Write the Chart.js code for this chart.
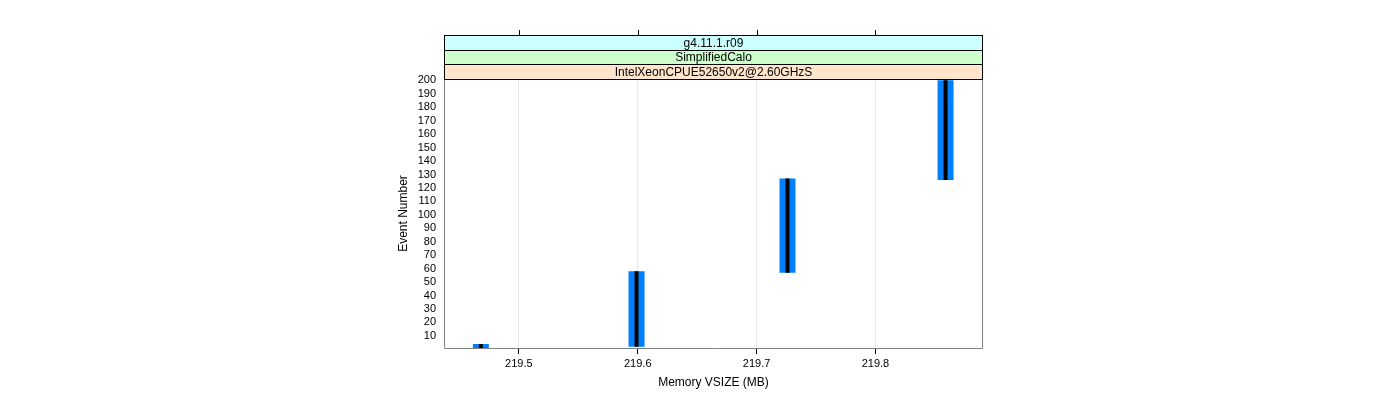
<!DOCTYPE html>
<html>
<head>
<meta charset="utf-8">
<script src="https://cdn.jsdelivr.net/npm/chart.js@4.4.0/dist/chart.umd.min.js"></script>
<style>
  html, body { margin: 0; padding: 0; background: #fff; }
</style>
</head>
<body>
<canvas id="memChart" width="1400" height="400"></canvas>
<script>
// memory step per block of events
const memoryMB = [219.468, 219.599, 219.726, 219.859];
const firstEvent = [1, 2, 57, 126];
const lastEvent = [4, 58, 127, 200];

const stripLabels = ['g4.11.1.r09', 'SimplifiedCalo', 'IntelXeonCPUE52650v2@2.60GHzS'];
const stripColors = ['#ccffff', '#ccffcc', '#ffe5cc'];
const xTicks = [219.5, 219.6, 219.7, 219.8];
const yTicks = [10, 20, 30, 40, 50, 60, 70, 80, 90, 100, 110, 120, 130, 140, 150, 160, 170, 180, 190, 200];

const FONT = "'Liberation Sans', Arial, sans-serif";
Chart.defaults.font.family = FONT;
Chart.defaults.color = '#000';

// vertical segments, one per memory value, split by a null point
const segments = [];
memoryMB.forEach(function (m, i) {
  segments.push({ x: m, y: firstEvent[i] }, { x: m, y: lastEvent[i] }, { x: m, y: null });
});

const stripsPlugin = {
  id: 'strips',
  afterDraw(chart) {
    const ctx = chart.ctx;
    const a = chart.chartArea;
    const x = chart.scales.x;
    const stripTop = 35;
    const h = (a.top - stripTop) / stripLabels.length;

    ctx.save();
    // panel frame
    ctx.strokeStyle = '#808080';
    ctx.lineWidth = 1;
    ctx.beginPath();
    ctx.moveTo(a.left + 0.5, a.top);
    ctx.lineTo(a.left + 0.5, a.bottom + 0.5);
    ctx.lineTo(a.right - 0.5, a.bottom + 0.5);
    ctx.lineTo(a.right - 0.5, a.top);
    ctx.stroke();

    // strips
    stripLabels.forEach(function (t, i) {
      const y0 = Math.round(stripTop + i * h) + 0.5;
      const y1 = Math.round(stripTop + (i + 1) * h) + 0.5;
      ctx.fillStyle = stripColors[i];
      ctx.fillRect(a.left, y0, a.right - a.left, y1 - y0);
      ctx.strokeStyle = '#000';
      ctx.strokeRect(a.left + 0.5, y0, a.right - a.left - 1, y1 - y0);
      ctx.fillStyle = '#000';
      ctx.font = '12px ' + FONT;
      ctx.textAlign = 'center';
      ctx.textBaseline = 'middle';
      ctx.fillText(t, (a.left + a.right) / 2, (y0 + y1) / 2 + 0.5);
    });

    // top ticks above the strips
    ctx.strokeStyle = '#000';
    ctx.beginPath();
    xTicks.forEach(function (v) {
      const px = Math.round(x.getPixelForValue(v)) + 0.5;
      ctx.moveTo(px, stripTop);
      ctx.lineTo(px, stripTop - 5);
    });
    ctx.stroke();
    ctx.restore();
  }
};

new Chart(document.getElementById('memChart'), {
  type: 'scatter',
  data: {
    datasets: [
      {
        data: segments,
        showLine: true,
        borderColor: '#000000',
        borderWidth: 4,
        borderCapStyle: 'butt',
        pointRadius: 0,
        order: 0
      },
      {
        data: segments,
        showLine: true,
        borderColor: '#0080ff',
        borderWidth: 16,
        borderCapStyle: 'butt',
        pointRadius: 0,
        order: 1
      }
    ]
  },
  options: {
    responsive: false,
    animation: false,
    layout: { padding: { left: 396, right: 417, top: 79, bottom: 0 } },
    plugins: {
      legend: { display: false },
      tooltip: { enabled: false }
    },
    scales: {
      x: {
        type: 'linear',
        min: 219.437,
        max: 219.8905,
        afterBuildTicks: function (scale) {
          scale.ticks = xTicks.map(function (v) { return { value: v }; });
        },
        afterFit: function (scale) { scale.height = 52; },
        grid: { color: '#e6e6e6', lineWidth: 1, tickColor: '#000', tickLength: 6 },
        border: { display: false },
        ticks: {
          padding: 3,
          font: { size: 11 },
          autoSkip: false,
          maxRotation: 0,
          callback: function (v) { return v.toFixed(1); }
        },
        title: {
          display: true,
          text: 'Memory VSIZE (MB)',
          font: { size: 12 },
          padding: { top: 0, bottom: 10 }
        }
      },
      y: {
        type: 'linear',
        min: 1,
        max: 201,
        afterBuildTicks: function (scale) {
          scale.ticks = yTicks.map(function (v) { return { value: v }; });
        },
        afterFit: function (scale) { scale.width = 48; },
        grid: { display: false, drawTicks: false },
        border: { display: false },
        ticks: {
          padding: 8,
          font: { size: 11 },
          autoSkip: false
        },
        title: {
          display: true,
          text: 'Event Number',
          font: { size: 12 },
          padding: 0
        }
      }
    }
  },
  plugins: [stripsPlugin]
});
</script>
</body>
</html>
